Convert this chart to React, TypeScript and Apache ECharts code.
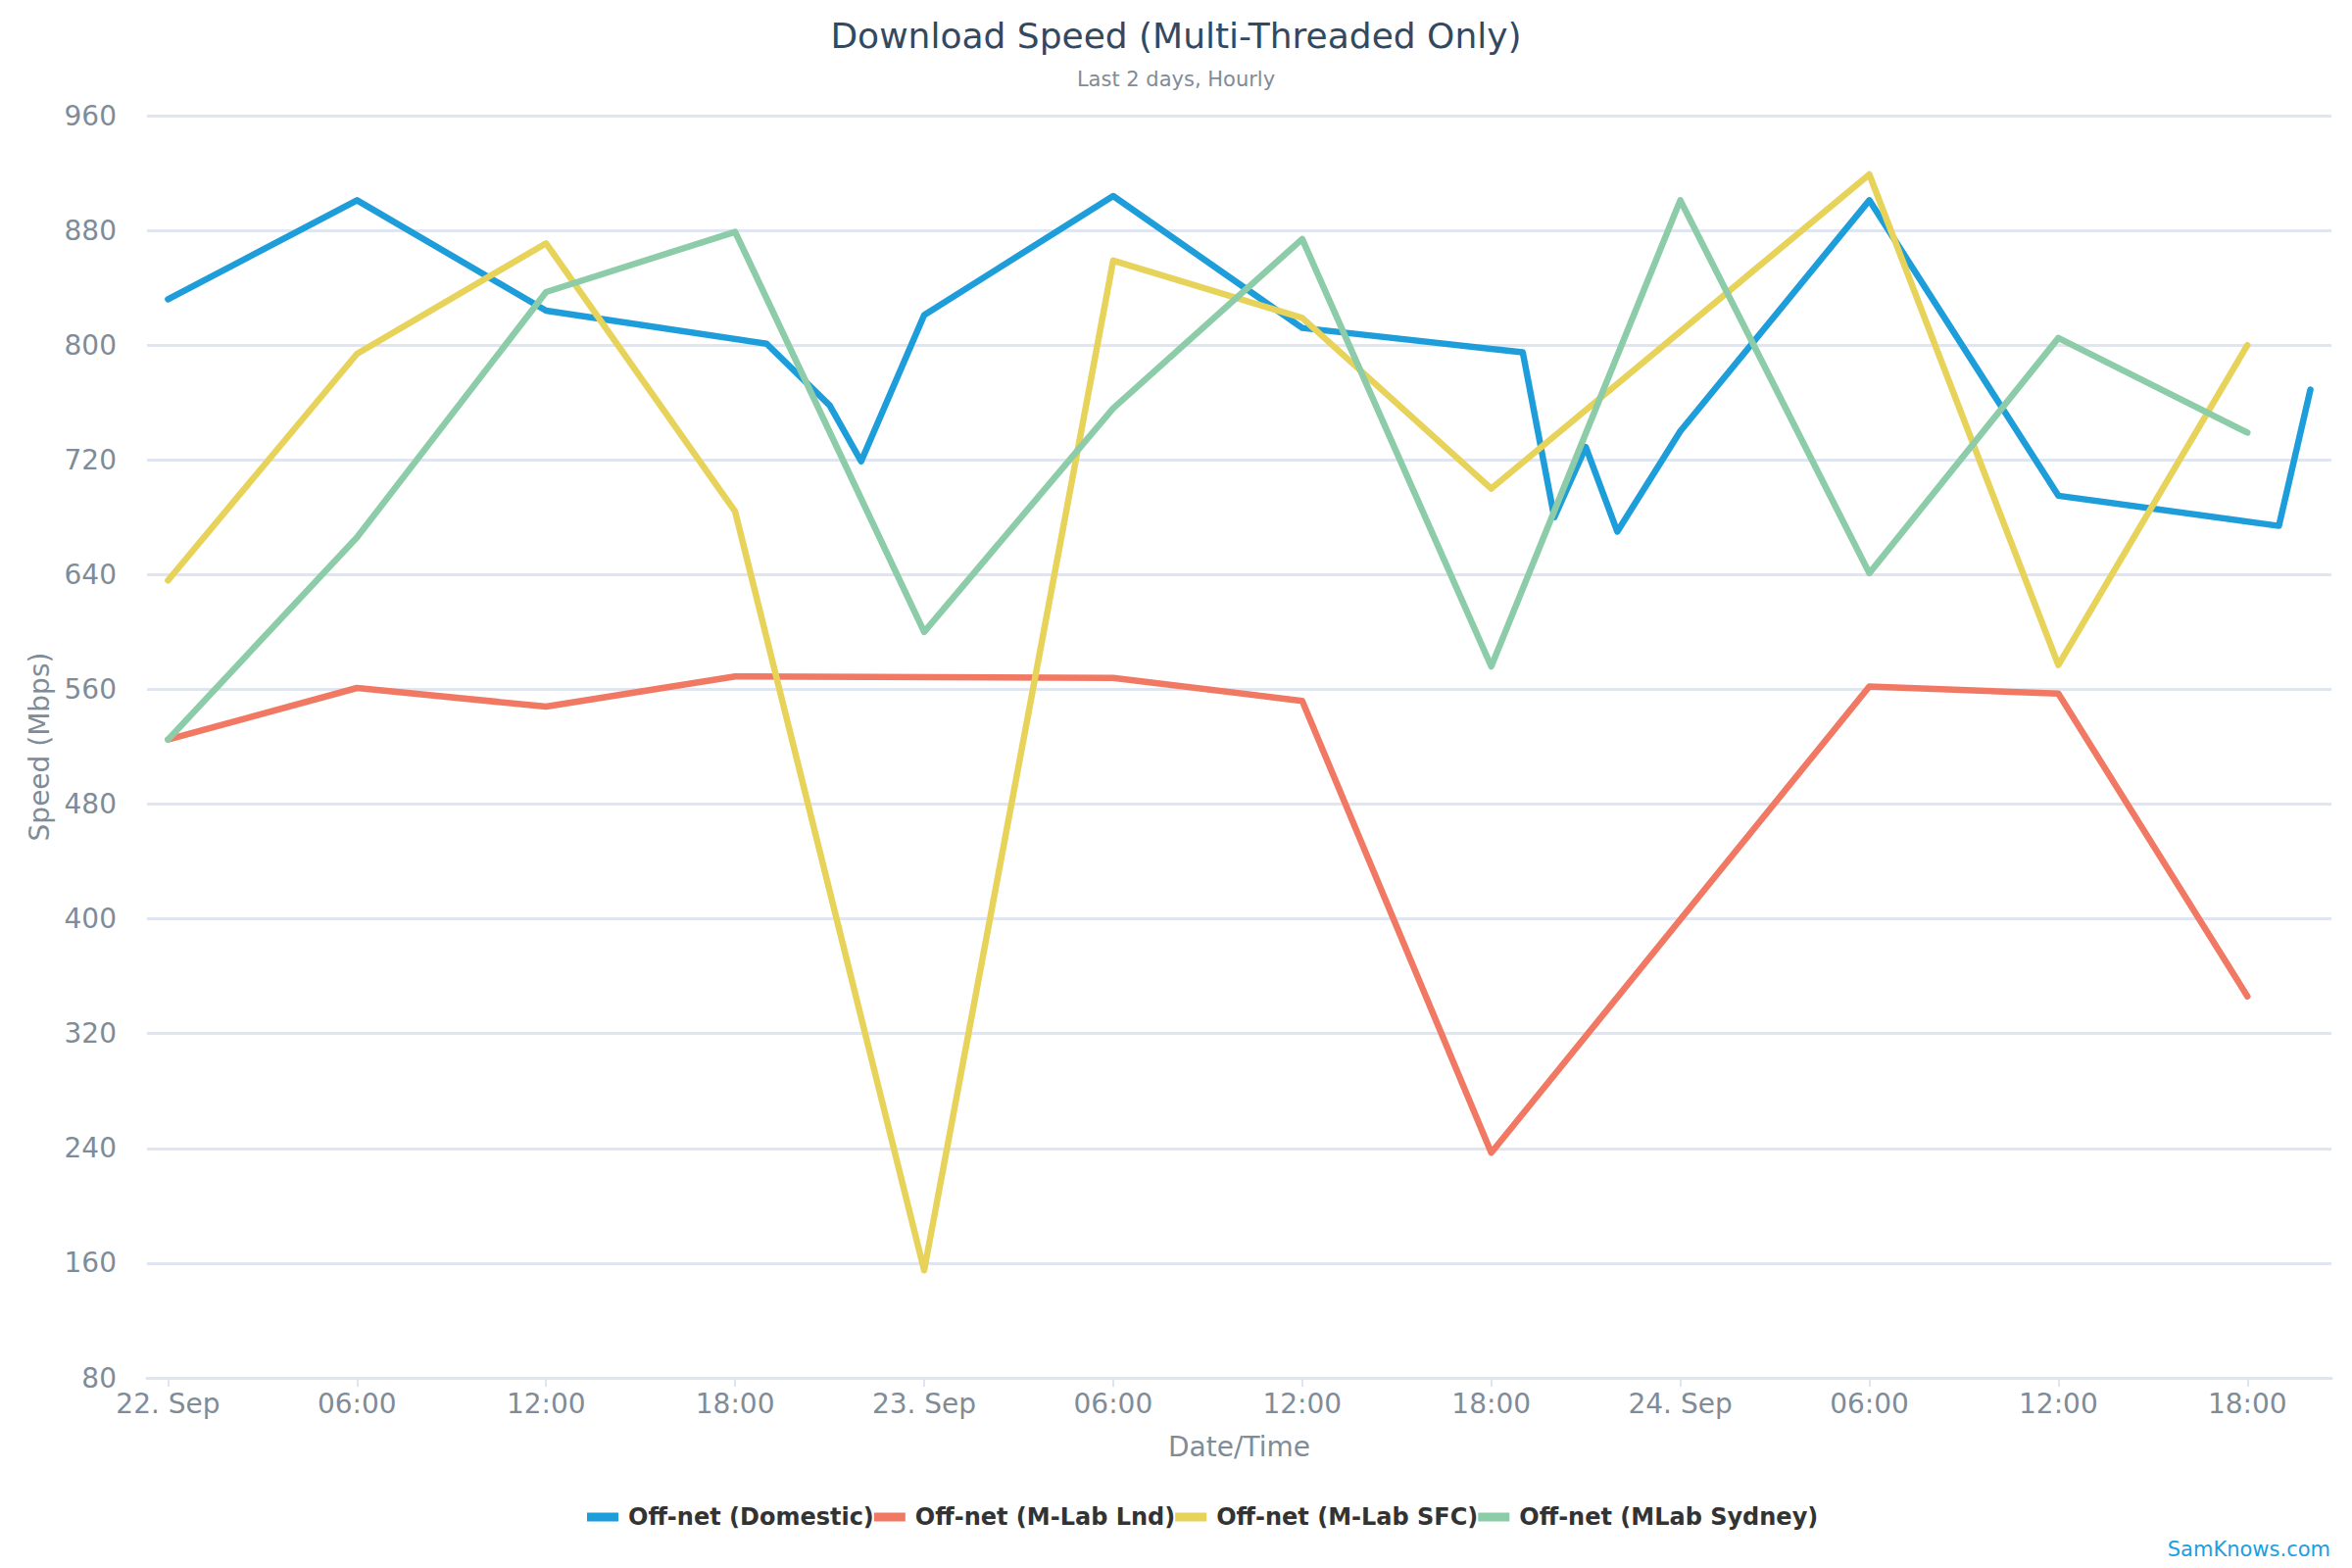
import React, { useEffect, useRef } from "react";
import * as echarts from "echarts";

// Hours counted from 22 Sep 00:00
const domesticHours = [0, 6, 12, 19, 21, 22, 24, 30, 36, 43, 44, 45, 46, 48, 54, 60, 67, 68];
const domesticMbps = [832, 901, 824, 801, 758, 719, 821, 904, 812, 795, 680, 729, 670, 740, 901, 695, 674, 769];

const lndHours = [0, 6, 12, 18, 30, 36, 42, 54, 60, 66];
const lndMbps = [525, 561, 548, 569, 568, 552, 237, 562, 557, 346];

const sfcHours = [0, 6, 12, 18, 24, 30, 36, 42, 54, 60, 66];
const sfcMbps = [636, 794, 871, 684, 155, 859, 819, 700, 919, 577, 800];

const sydneyHours = [0, 6, 12, 18, 24, 30, 36, 42, 48, 54, 60, 66];
const sydneyMbps = [525, 666, 837, 879, 600, 756, 874, 576, 901, 641, 805, 739];

const seriesNames = ["Off-net (Domestic)", "Off-net (M-Lab Lnd)", "Off-net (M-Lab SFC)", "Off-net (MLab Sydney)"];
const seriesColors = ["#1d9dd9", "#f17863", "#e7d35a", "#8ccca9"];

const xTickHours = [0, 6, 12, 18, 24, 30, 36, 42, 48, 54, 60, 66];
const dayLabels = ["22. Sep", "23. Sep", "24. Sep"];

const FONT = "DejaVu Sans";
const LABEL = "#7f8c97";

function pairs(h: number[], v: number[]) {
  return h.map((x, i) => [x, v[i]]);
}

function fmtHour(v: number) {
  const h = Math.round(v);
  if (h % 24 === 0) return dayLabels[h / 24];
  const hh = h % 24;
  return (hh < 10 ? "0" : "") + hh + ":00";
}

export default function App() {
  const ref = useRef<HTMLDivElement>(null);
  useEffect(() => {
    if (!ref.current) return;
    const chart = echarts.init(ref.current, null, { renderer: "svg" });
    const datasets = [
      pairs(domesticHours, domesticMbps),
      pairs(lndHours, lndMbps),
      pairs(sfcHours, sfcMbps),
      pairs(sydneyHours, sydneyMbps),
    ];
    chart.setOption({
      animation: false,
      backgroundColor: "#ffffff",
      textStyle: { fontFamily: FONT },
      title: [
        {
          text: "Download Speed (Multi-Threaded Only)",
          left: "center",
          top: 12,
          textStyle: { fontFamily: FONT, fontSize: 36, fontWeight: "normal", color: "#33495f", lineHeight: 38 },
        },
        {
          text: "Last 2 days, Hourly",
          left: "center",
          top: 64,
          textStyle: { fontFamily: FONT, fontSize: 21, fontWeight: "normal", color: LABEL, lineHeight: 24 },
        },
      ],
      grid: { left: 150, right: 21, top: 118, bottom: 194, containLabel: false },
      legend: {
        data: seriesNames,
        left: 594,
        top: 1529,
        icon: "rect",
        itemWidth: 32,
        itemHeight: 9,
        itemGap: 0,
        textStyle: {
          fontFamily: FONT,
          fontSize: 24,
          fontWeight: "bold",
          color: "#333333",
          lineHeight: 28,
          padding: [0, 0, 0, 5],
        },
      },
      xAxis: {
        type: "value",
        min: -2 / 3,
        max: 68 + 2 / 3,
        name: "Date/Time",
        nameLocation: "middle",
        nameGap: 56,
        nameTextStyle: { fontFamily: FONT, fontSize: 28, color: LABEL },
        axisLine: { show: true, lineStyle: { color: "#dfe5f0", width: 3 } },
        axisTick: {
          show: true,
          customValues: xTickHours,
          length: 9,
          lineStyle: { color: "#dfe5f0", width: 2 },
        },
        axisLabel: {
          customValues: xTickHours,
          formatter: (v: number) => fmtHour(v),
          fontFamily: FONT,
          fontSize: 28,
          color: LABEL,
          margin: 12,
        },
        splitLine: { show: false },
      },
      yAxis: {
        type: "value",
        min: 80,
        max: 960,
        interval: 80,
        name: "Speed (Mbps)",
        nameLocation: "middle",
        nameGap: 93,
        nameTextStyle: { fontFamily: FONT, fontSize: 28, color: LABEL },
        axisLine: { show: false },
        axisTick: { show: false },
        axisLabel: {
          fontFamily: FONT,
          fontSize: 28,
          color: LABEL,
          margin: 31,
          padding: [0, 0, 10, 0],
        },
        splitLine: { show: true, lineStyle: { color: "#e0e6f1", width: 3 } },
      },
      graphic: [
        {
          type: "text",
          right: 22,
          top: 1570,
          style: { text: "SamKnows.com", fontFamily: FONT, fontSize: 21, fill: "#1ba0e2" },
        },
      ],
      series: seriesNames.map((name, i) => ({
        name,
        type: "line",
        data: datasets[i],
        showSymbol: false,
        symbol: "none",
        color: seriesColors[i],
        lineStyle: { color: seriesColors[i], width: 6.5, cap: "round", join: "round" },
        emphasis: { disabled: true },
      })),
    });
    return () => chart.dispose();
  }, []);
  return (
    <div
      ref={ref}
      style={{ position: "fixed", left: 0, top: 0, width: 2400, height: 1600, background: "#ffffff" }}
    />
  );
}
